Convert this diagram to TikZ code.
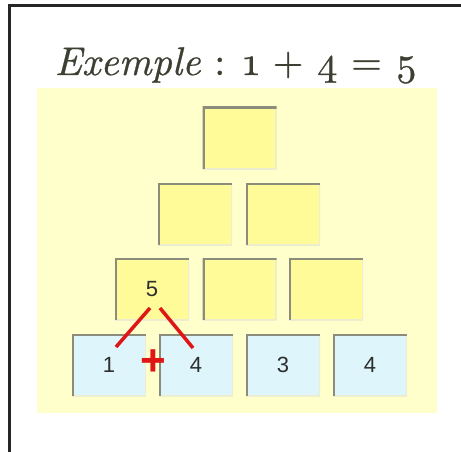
\documentclass[tikz,border=0pt]{standalone}
\usepackage{fontspec}
\setmainfont{Latin Modern Roman}
\newfontfamily\titlefont{lmroman10-regular}[Extension=.otf, ItalicFont=lmroman10-italic, FakeBold=0.6]
\newfontfamily\numfont{Liberation Sans}
\definecolor{bgcream}{HTML}{FFFFCC}
\definecolor{boxyellow}{HTML}{FEFB98}
\definecolor{boxblue}{HTML}{DDF5FB}
\definecolor{edgedark}{HTML}{8C8C7C}
\definecolor{edgelight}{HTML}{EDEDD0}
\definecolor{titlecol}{HTML}{3C4032}
\definecolor{plusred}{HTML}{E01515}
\tikzset{
  cell/.style={minimum width=74pt, minimum height=62pt, inner sep=0pt, outer sep=0pt,
    font=\numfont\fontsize{22}{22}\selectfont, text=black!82,
    path picture={
      \draw[line width=3pt, edgelight]
        (path picture bounding box.south west) -- (path picture bounding box.south east)
        -- (path picture bounding box.north east);
      \draw[line width=4.5pt, edgedark]
        (path picture bounding box.south west) -- (path picture bounding box.north west)
        -- (path picture bounding box.north east);
    }},
  ycell/.style={cell, fill=boxyellow},
  bcell/.style={cell, fill=boxblue},
  redline/.style={draw=plusred, line width=3.5pt}
}
\begin{document}
\begin{tikzpicture}[x=1pt,y=-1pt]
\useasboundingbox (0,0) rectangle (461,452);
\fill[white] (0,0) rectangle (461,452);
% frame
\draw[line width=3pt, black!85] (9,460) -- (9,6) -- (470,6);
% background
\fill[bgcream] (37,88) rectangle (437,413);
% title
\node[anchor=base, text=titlecol, font=\titlefont\fontsize{40}{40}\selectfont] (title) at (236,75)
  {\textit{Exemple} : \oldstylenums{1} + \oldstylenums{4} = \oldstylenums{5}};
% row 1
\node[ycell] (r1a) at (239.5,138) {};
% row 2
\node[ycell] (r2a) at (195,214) {};
\node[ycell] (r2b) at (283,214) {};
% row 3
\node[ycell] (r3a) at (152,289) {5};
\node[ycell] (r3b) at (239.5,289) {};
\node[ycell] (r3c) at (326,289) {};
% row 4
\node[bcell] (r4a) at (109,365) {1};
\node[bcell] (r4b) at (196,365) {4};
\node[bcell] (r4c) at (283,365) {3};
\node[bcell] (r4d) at (370,365) {4};
% red connectors
\coordinate (tl) at (150,308);
\coordinate (tr) at (160,308);
\coordinate (bl) at (116,347);
\coordinate (br) at (193,348);
\draw[redline] (tl) -- (bl);
\draw[redline] (tr) -- (br);
\node[text=plusred, font=\numfont\bfseries\fontsize{44}{44}\selectfont, inner sep=0pt] (plus) at (153,363) {+};
\end{tikzpicture}
\end{document}
